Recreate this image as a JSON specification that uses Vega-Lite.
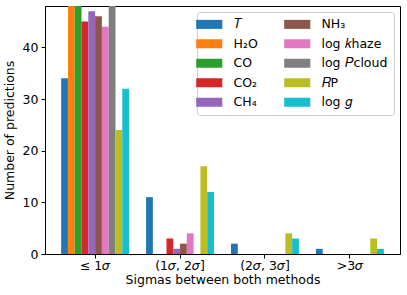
{
  "$schema": "https://vega.github.io/schema/vega-lite/v6.json",
  "width": 355,
  "height": 248,
  "autosize": {"type": "none"},
  "padding": {"left": 45, "top": 6, "right": 7, "bottom": 41},
  "config": {
    "font": "DejaVu Sans",
    "view": {"stroke": "black", "strokeWidth": 1},
    "axis": {"labelFont": "DejaVu Sans", "titleFont": "DejaVu Sans", "labelFontSize": 12.5, "titleFontSize": 12.5, "titleFontWeight": "normal", "labelColor": "black", "titleColor": "black", "domainColor": "black", "tickColor": "black", "tickSize": 4, "grid": false},
    "legend": {"labelFont": "DejaVu Sans", "labelFontSize": 12.5, "labelColor": "black"}
  },
  "data": {"values": [
    {"group": "g1", "param": "T", "value": 34},
    {"group": "g1", "param": "H2O", "value": 50},
    {"group": "g1", "param": "CO", "value": 50},
    {"group": "g1", "param": "CO2", "value": 45},
    {"group": "g1", "param": "CH4", "value": 47},
    {"group": "g1", "param": "NH3", "value": 46},
    {"group": "g1", "param": "khaze", "value": 44},
    {"group": "g1", "param": "Pcloud", "value": 50},
    {"group": "g1", "param": "RP", "value": 24},
    {"group": "g1", "param": "g", "value": 32},
    {"group": "g2", "param": "T", "value": 11},
    {"group": "g2", "param": "H2O", "value": 0},
    {"group": "g2", "param": "CO", "value": 0},
    {"group": "g2", "param": "CO2", "value": 3},
    {"group": "g2", "param": "CH4", "value": 1},
    {"group": "g2", "param": "NH3", "value": 2},
    {"group": "g2", "param": "khaze", "value": 4},
    {"group": "g2", "param": "Pcloud", "value": 0},
    {"group": "g2", "param": "RP", "value": 17},
    {"group": "g2", "param": "g", "value": 12},
    {"group": "g3", "param": "T", "value": 2},
    {"group": "g3", "param": "H2O", "value": 0},
    {"group": "g3", "param": "CO", "value": 0},
    {"group": "g3", "param": "CO2", "value": 0},
    {"group": "g3", "param": "CH4", "value": 0},
    {"group": "g3", "param": "NH3", "value": 0},
    {"group": "g3", "param": "khaze", "value": 0},
    {"group": "g3", "param": "Pcloud", "value": 0},
    {"group": "g3", "param": "RP", "value": 4},
    {"group": "g3", "param": "g", "value": 3},
    {"group": "g4", "param": "T", "value": 1},
    {"group": "g4", "param": "H2O", "value": 0},
    {"group": "g4", "param": "CO", "value": 0},
    {"group": "g4", "param": "CO2", "value": 0},
    {"group": "g4", "param": "CH4", "value": 0},
    {"group": "g4", "param": "NH3", "value": 0},
    {"group": "g4", "param": "khaze", "value": 0},
    {"group": "g4", "param": "Pcloud", "value": 0},
    {"group": "g4", "param": "RP", "value": 3},
    {"group": "g4", "param": "g", "value": 1}
  ]},
  "mark": {"type": "bar", "clip": true},
  "encoding": {
    "x": {
      "field": "group", "type": "nominal",
      "scale": {"domain": ["g1", "g2", "g3", "g4"], "paddingInner": 0.2, "paddingOuter": 0.19},
      "axis": {"title": "Sigmas between both methods", "labelAngle": 0, "labelPadding": 1, "titlePadding": 2,
        "labelExpr": "datum.value == 'g1' ? '≤ 1𝜎' : datum.value == 'g2' ? '(1𝜎, 2𝜎]' : datum.value == 'g3' ? '(2𝜎, 3𝜎]' : '>3𝜎'"}
    },
    "xOffset": {
      "field": "param", "type": "nominal",
      "scale": {"domain": ["T", "H2O", "CO", "CO2", "CH4", "NH3", "khaze", "Pcloud", "RP", "g"], "paddingInner": 0, "paddingOuter": 0}
    },
    "y": {
      "field": "value", "type": "quantitative",
      "scale": {"domain": [0, 48], "nice": false},
      "axis": {"title": "Number of predictions", "values": [0, 10, 20, 30, 40], "labelPadding": 3, "titlePadding": 6}
    },
    "color": {
      "field": "param", "type": "nominal",
      "scale": {
        "domain": ["T", "H2O", "CO", "CO2", "CH4", "NH3", "khaze", "Pcloud", "RP", "g"],
        "range": ["#1f77b4", "#ff7f0e", "#2ca02c", "#d62728", "#9467bd", "#8c564b", "#e377c2", "#7f7f7f", "#bcbd22", "#17becf"]
      },
      "legend": {
        "title": null,
        "orient": "top-right",
        "offset": 6,
        "columns": 2,
        "padding": 6,
        "strokeColor": "#cccccc",
        "fillColor": "white",
        "cornerRadius": 3,
        "symbolType": "M-2.9,-1H2.9V1H-2.9Z",
        "symbolSize": 81,
        "symbolStrokeWidth": 0,
        "symbolOpacity": 1,
        "labelOffset": 18,
        "rowPadding": 6.5,
        "columnPadding": 26,
        "labelExpr": "{'T': '𝑇', 'NH3': 'NH₃', 'H2O': 'H₂O', 'khaze': 'log 𝑘haze', 'CO': 'CO', 'Pcloud': 'log 𝑃cloud', 'CO2': 'CO₂', 'RP': '𝑅P', 'CH4': 'CH₄', 'g': 'log 𝑔'}[datum.value]"
      }
    }
  }
}
